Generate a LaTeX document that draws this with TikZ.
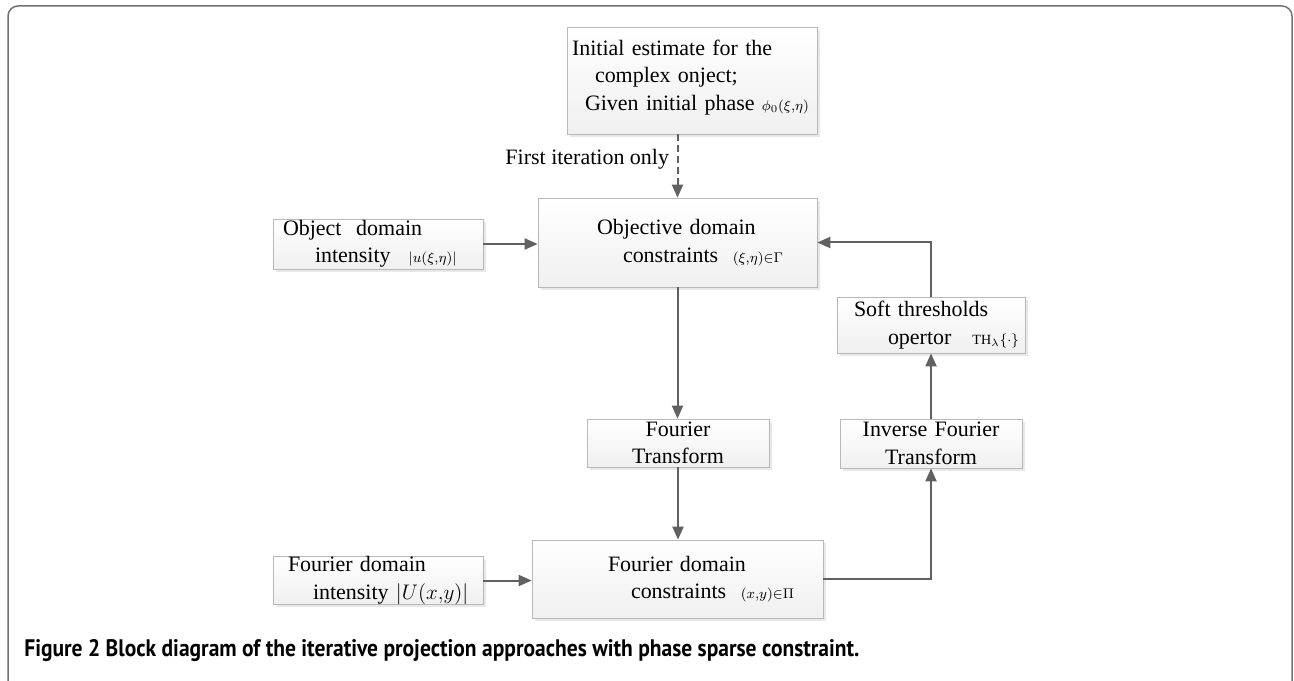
\documentclass[tikz,border=0pt]{standalone}
\usepackage{fontspec}
\setmainfont{Liberation Serif}
\newfontfamily\capfont[FakeStretch=0.9]{PT Sans}
\usetikzlibrary{positioning,arrows.meta,shadows}

\tikzset{
  blockbox/.style={draw=black!28, top color=white, bottom color=black!6,
    drop shadow={shadow xshift=0.6mm, shadow yshift=-0.6mm, fill=black!30, opacity=0.3},
    inner sep=0pt, align=left, font=\fontsize{12.5}{15.6}\selectfont},
  flowarrow/.style={draw=black!62, line width=0.4mm, -{Triangle[length=2.6mm,width=2.2mm]}},
}

\begin{document}
\begin{tikzpicture}[x=0.2mm,y=-0.2mm]
    \useasboundingbox (0,0) rectangle (1294,681);
    \draw[black!55, line width=0.3mm, rounded corners=2mm] (8,681) -- (8,6) -- (1292,6) -- (1292,681);

    \node[blockbox, text width=50mm, minimum height=21.4mm] (init) at (692,80.5)
        {\hspace*{1mm}Initial estimate for the\\ \hspace*{5.6mm}complex onject;\\
         \hspace*{3.6mm}Given initial phase {\footnotesize$\phi_0(\xi{,}\eta)$}\\[-3.3mm]\mbox{}};
    \node[blockbox, text width=42mm, minimum height=10mm] (objint) at (378,244)
        {\hspace*{2mm}Object\ \ domain\\ \hspace*{8.4mm}intensity\hspace{3.6mm}{\footnotesize$|u(\xi{,}\eta)|$}};
    \node[blockbox, text width=55.8mm, minimum height=17.8mm] (objcon) at (677.5,242.5)
        {\hspace*{11.8mm}Objective domain\\ \hspace*{17mm}constraints\ \ {\footnotesize$(\xi{,}\eta)\mathord{\in}\Gamma$}};
    \node[blockbox, text width=37.6mm, minimum height=11.2mm] (soft) at (931,325)
        {\hspace*{3.4mm}Soft thresholds\\ \hspace*{10.2mm}opertor\hspace{4.2mm}{\footnotesize$\mathrm{TH}_\lambda\{\cdot\}$}};
    \node[blockbox, align=center, text width=36.4mm, minimum height=9.6mm] (ft) at (678,443)
        {Fourier\\Transform};
    \node[blockbox, align=center, text width=36.4mm, minimum height=9.8mm] (ift) at (931,443.5)
        {Inverse Fourier\\Transform};
    \node[blockbox, text width=42mm, minimum height=9.4mm] (fint) at (378,580.5)
        {\hspace*{3mm}Fourier domain\\ \hspace*{8mm}intensity\ $|U(x{,}y)|$};
    \node[blockbox, text width=58.2mm, minimum height=15.6mm] (fcon) at (677.5,579)
        {\hspace*{15.2mm}Fourier domain\\ \hspace*{19.8mm}constraints\ \ {\footnotesize$(x{,}y)\mathord{\in}\Pi$}};

    % connectors
    \draw[flowarrow, dash pattern=on 1.4mm off 0.8mm] (objcon.north |- init.south) --
        node[pos=0.4, left, inner sep=1.5mm, font=\fontsize{12.5}{15}\selectfont] (firstonly) {First iteration only} (objcon.north);
    \draw[flowarrow] (objint.east) -- (objint.east -| objcon.west);
    \draw[flowarrow] (objcon.south) -- (objcon.south |- ft.north);
    \draw[flowarrow] (ft.south) -- (ft.south |- fcon.north);
    \draw[flowarrow] (fint.east) -- (fint.east -| fcon.west);
    \draw[flowarrow] (fcon.east) -| (ift.south);
    \draw[flowarrow] (ift.north) -- (ift.north |- soft.south);
    \draw[flowarrow] (soft.north) |- (objcon.east);

    \node[anchor=base west, inner sep=0pt, font=\capfont\bfseries\fontsize{13.6}{15}\selectfont] (caption) at (24,656)
        {Figure 2 Block diagram of the iterative projection approaches with phase sparse constraint.};
\end{tikzpicture}
\end{document}
